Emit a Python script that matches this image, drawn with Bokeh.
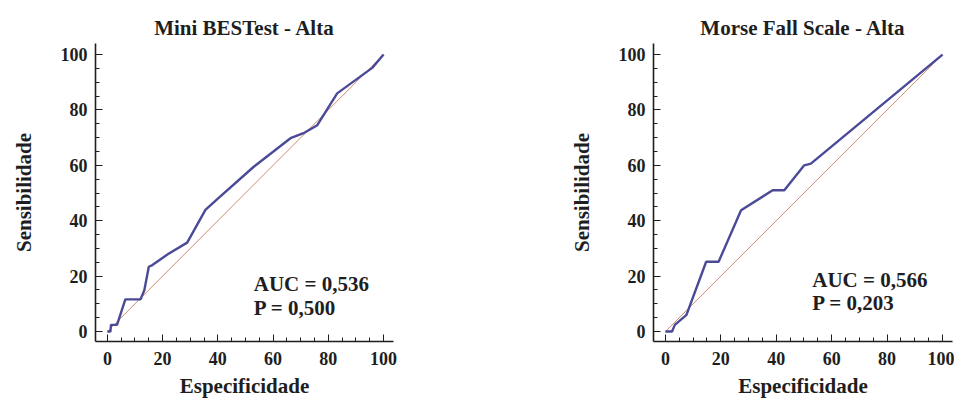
from bokeh.plotting import figure
from bokeh.layouts import row
from bokeh.models import FixedTicker, Label
from bokeh.embed import file_html
from bokeh.resources import INLINE

ticks = [0, 20, 40, 60, 80, 100]
minor = list(range(0, 101, 5))

mini_x = [0, 1.1, 1.3, 3.5, 6.5, 12.0, 13.4, 15.0, 16.3, 22.0, 28.9, 35.5, 40.0, 53.0, 66.3, 71.0, 76.0, 83.2, 95.9, 100]
mini_y = [0, 0, 2.4, 2.4, 11.6, 11.6, 15.0, 23.4, 24.0, 28.0, 32.1, 43.9, 48.0, 59.5, 69.8, 71.6, 74.5, 86.0, 95.2, 100]

morse_x = [0, 2.4, 3.4, 7.6, 14.7, 19.2, 27.3, 38.7, 42.9, 50.1, 52.5, 100]
morse_y = [0, 0, 2.4, 6.0, 25.2, 25.2, 43.8, 51.0, 51.0, 60.0, 60.6, 100]

diag_x = [0, 100]
diag_y = [0, 100]

titles = ["Mini BESTest - Alta", "Morse Fall Scale - Alta"]
auc_txt = ["AUC = 0,536", "AUC = 0,566"]
p_txt = ["P = 0,500", "P = 0,203"]

FONT = "Liberation Serif"
INK = "#1e1e1e"


def make(title, xs, ys, auc, pv, auc_y, p_y, width, bl, br):
    p = figure(width=width, height=400, output_backend="svg", toolbar_location=None,
               x_range=(-4.3, 103.6), y_range=(-3.6, 104),
               min_border_left=bl, min_border_right=br, min_border_top=43, min_border_bottom=58)
    p.title.text = title
    p.title.align = "center"
    p.title.vertical_align = "top"
    p.title.text_font = FONT
    p.title.text_font_style = "bold"
    p.title.text_font_size = "21px"
    p.title.text_color = INK
    p.title.standoff = 4
    p.outline_line_color = None
    p.xgrid.visible = False
    p.ygrid.visible = False
    p.line(diag_x, diag_y, line_color="#d08a70", line_width=1)
    p.line(xs, ys, line_color="#4a4a98", line_width=2.4)
    for ax, lab in ((p.xaxis[0], "Especificidade"), (p.yaxis[0], "Sensibilidade")):
        ax.ticker = FixedTicker(ticks=ticks, minor_ticks=minor)
        ax.axis_label = lab
        ax.axis_label_text_font = FONT
        ax.axis_label_text_font_style = "bold"
        ax.axis_label_text_font_size = "21px"
        ax.axis_label_text_color = INK
        ax.major_label_text_font = FONT
        ax.major_label_text_font_style = "bold"
        ax.major_label_text_font_size = "18px"
        ax.major_label_text_color = INK
        ax.major_tick_in = 7
        ax.major_tick_out = 0
        ax.minor_tick_in = 4
        ax.minor_tick_out = 0
        ax.axis_line_width = 1.6
        ax.axis_line_color = INK
        ax.major_tick_line_color = INK
        ax.minor_tick_line_color = INK
    p.xaxis[0].major_label_standoff = 10
    p.xaxis[0].axis_label_standoff = 6
    p.yaxis[0].major_label_standoff = 8
    p.yaxis[0].axis_label_standoff = 22
    for txt, yy in ((auc, auc_y), (pv, p_y)):
        p.add_layout(Label(x=53, y=yy, text=txt, text_font=FONT, text_font_style="bold",
                           text_font_size="21px", text_color=INK, text_baseline="middle"))
    return p


p1 = make(titles[0], mini_x, mini_y, auc_txt[0], p_txt[0], 17.3, 8.6, 478, 95, 85)
p2 = make(titles[1], morse_x, morse_y, auc_txt[1], p_txt[1], 18.7, 10.4, 476, 175, 2)
p = row(p1, p2)
open("out.html", "w").write(file_html(p, INLINE))
